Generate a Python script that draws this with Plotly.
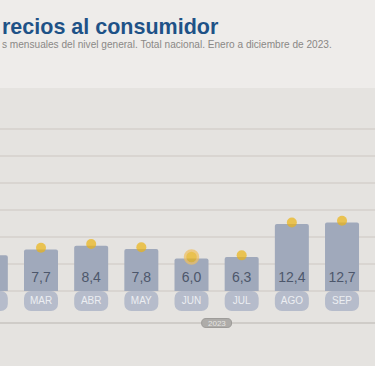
import plotly.graph_objects as go

# ---- data ----
months = ["FEB", "MAR", "ABR", "MAY", "JUN", "JUL", "AGO", "SEP"]
values = [6.6, 7.7, 8.4, 7.8, 6.0, 6.3, 12.4, 12.7]
value_labels = ["6,6", "7,7", "8,4", "7,8", "6,0", "6,3", "12,4", "12,7"]
year_label = "2023"
title_text = "recios al consumidor"
subtitle_text = "s mensuales del nivel general. Total nacional. Enero a diciembre de 2023."
grid_levels = [0, 5, 10, 15, 20, 25, 30]

# ---- styling / geometry ----
W, H = 375, 366
PX_PER_UNIT = 5.4
BASE_PX = 291
Y_MAX = BASE_PX / PX_PER_UNIT
Y_MIN = -(H - BASE_PX) / PX_PER_UNIT
STEP_PX = 50.17
FIRST_PX = 41 - STEP_PX  # center of first category (FEB)
X_MIN = -FIRST_PX / STEP_PX
X_MAX = (W - FIRST_PX) / STEP_PX

TAB_H = 20 / PX_PER_UNIT
BAR_COLOR = "#a0a9bb"
TAB_COLOR = "#b6bccb"
DOT_COLOR = "#ebb314"
BG_MAIN = "#e5e3e0"
BG_TOP = "#eeecea"

idx = list(range(len(months)))
# only categories whose centre lies inside the frame get text labels
lab_idx = [i for i in idx if FIRST_PX + i * STEP_PX > 15]

fig = go.Figure()

# tabs below bars
fig.add_trace(go.Bar(
    x=idx, y=[-TAB_H] * len(months), base=0,
    marker=dict(color=TAB_COLOR, cornerradius=7, line=dict(width=0)),
    hoverinfo="skip", showlegend=False,
))
# main bars
fig.add_trace(go.Bar(
    x=idx, y=values,
    marker=dict(color=BAR_COLOR, cornerradius=2, line=dict(width=0)),
    hoverinfo="skip", showlegend=False,
))
# value labels
fig.add_trace(go.Scatter(
    x=lab_idx, y=[13 / PX_PER_UNIT] * len(lab_idx), mode="text",
    text=[value_labels[i] for i in lab_idx], textposition="middle center",
    textfont=dict(family="Liberation Sans, Arial", size=14, color="#4d576b"),
    hoverinfo="skip", showlegend=False,
))
# month labels
fig.add_trace(go.Scatter(
    x=lab_idx, y=[-10 / PX_PER_UNIT] * len(lab_idx), mode="text",
    text=[months[i] for i in lab_idx], textposition="middle center",
    textfont=dict(family="Liberation Sans, Arial", size=10, color="#eceef2"),
    hoverinfo="skip", showlegend=False,
))
# dots on top of bars
sizes = [13 if m == "JUN" else 10 for m in months]
lines = [2.5 if m == "JUN" else 0 for m in months]
fig.add_trace(go.Scatter(
    x=idx, y=[v + 0.3 for v in values], mode="markers",
    marker=dict(color=DOT_COLOR, size=sizes,
                line=dict(color="#f0c060", width=lines)),
    hoverinfo="skip", showlegend=False,
))

shapes = []
# top lighter band
shapes.append(dict(type="rect", xref="paper", yref="paper", x0=0, x1=1,
                   y0=1 - 88 / H, y1=1, fillcolor=BG_TOP, line=dict(width=0),
                   layer="below"))
for g in grid_levels:
    shapes.append(dict(type="line", xref="paper", yref="y", x0=0, x1=1,
                       y0=g, y1=g, line=dict(color="#d4d1cd", width=1.5),
                       layer="below"))
# axis line below tabs
axis_y = -(323 - BASE_PX) / PX_PER_UNIT
shapes.append(dict(type="line", xref="paper", yref="y", x0=0, x1=1,
                   y0=axis_y, y1=axis_y, line=dict(color="#cfccc8", width=2),
                   layer="below"))
# year pill, centred on the Jan..Dec span (FEB-based index)
pill_cx = 4.5
hw = 15 / STEP_PX
hh = 4.5 / PX_PER_UNIT
r = 4.5 / STEP_PX
shapes.append(dict(
    type="path", xref="x", yref="y",
    path=(f"M {pill_cx - hw + r},{axis_y - hh} L {pill_cx + hw - r},{axis_y - hh} "
          f"Q {pill_cx + hw},{axis_y - hh} {pill_cx + hw},{axis_y} "
          f"Q {pill_cx + hw},{axis_y + hh} {pill_cx + hw - r},{axis_y + hh} "
          f"L {pill_cx - hw + r},{axis_y + hh} "
          f"Q {pill_cx - hw},{axis_y + hh} {pill_cx - hw},{axis_y} "
          f"Q {pill_cx - hw},{axis_y - hh} {pill_cx - hw + r},{axis_y - hh} Z"),
    fillcolor="#aeaca9", line=dict(color="#9e9c99", width=1), layer="above"))

annotations = [
    dict(text=year_label, x=pill_cx, y=axis_y, xref="x", yref="y",
         showarrow=False, font=dict(family="Liberation Sans, Arial", size=8,
                                    color="#e6e5e3")),
    dict(text=f"<b>{title_text}</b>", x=0, y=1 - 27 / H, xref="paper",
         yref="paper", xanchor="left", yanchor="middle", showarrow=False,
         font=dict(family="Liberation Sans, Arial", size=21.5, color="#1e5287")),
    dict(text=subtitle_text, x=0, y=1 - 44 / H, xref="paper", yref="paper",
         xanchor="left", yanchor="middle", showarrow=False,
         font=dict(family="Liberation Sans, Arial", size=10.1, color="#8a8886")),
]

fig.update_layout(
    width=W, height=H,
    margin=dict(l=0, r=0, t=0, b=0),
    paper_bgcolor=BG_MAIN, plot_bgcolor="rgba(0,0,0,0)",
    barmode="overlay", bargap=1 - 34 / STEP_PX,
    shapes=shapes, annotations=annotations,
    xaxis=dict(range=[X_MIN, X_MAX], visible=False, fixedrange=True),
    yaxis=dict(range=[Y_MIN, Y_MAX], visible=False, fixedrange=True),
    showlegend=False,
)

fig.write_html(
    "out.html",
    config={"displayModeBar": False},
    post_script="document.body.style.margin='0';document.body.style.overflow='hidden';",
)
